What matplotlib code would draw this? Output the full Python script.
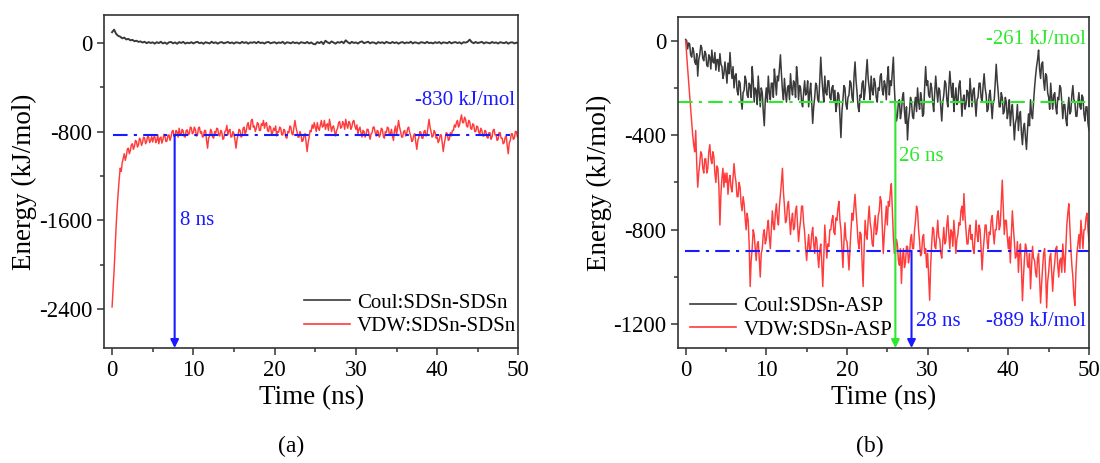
import numpy as np
import matplotlib
matplotlib.use("Agg")
import matplotlib.pyplot as plt
from matplotlib.ticker import MultipleLocator

# time grids (ns)
t_c = np.linspace(0, 50, 201)   # 0.25 ns
t_f = np.linspace(0, 50, 401)   # 0.125 ns

# (a) SDSn-SDSn
coul_a = [95, 118, 80, 62, 55, 40, 46, 30, 35, 22, 26, 14, 18, 8, 12, 2, 9, -4, 6, -2,
          4, -8, 5, -3, 9, -6, 2, -10, 4, 7, -5, 3, -9, 6, -2, 8, -7, 1, -4, 5,
          -6, 3, 8, -4, 2, -9, 5, 0, -6, 9, -3, 4, -8, 2, 6, -5, 1, 7, -4, 3,
          -7, 4, 1, -5, 8, -2, 5, -8, 3, 0, 6, -4, 9, -3, 2, -7, 4, 7, -5, 1,
          5, -6, 3, -2, 8, -9, 4, 1, -5, 6, -3, 2, -8, 5, 0, -4, 7, -6, 3, -10,
          -14, 6, -3, 9, -12, 18, 4, -5, 12, 2, -8, 6, 0, 10, -4, 22, 5, -6, 8, -2,
          3, -7, 6, 12, -4, 2, 9, -5, 4, 1, -9, 6, -2, 5, -6, 8, 0, -4, 7, -3,
          4, -8, 2, 6, -5, 3, -2, 9, -6, 4, 0, -7, 5, 2, -4, 8, -3, 1, -6, 5,
          -2, 6, -7, 3, 1, -4, 8, -5, 2, 6, -3, 4, -8, 5, 1, 9, 28, 6, -4, 7,
          -3, 2, 8, -6, 4, 0, -5, 7, -2, 3, -7, 5, 1, -4, 6, -8, 2, 4, -6, 1,
          -4]
vdw_a = [-2380, -2220, -2050, -1840, -1650, -1490, -1350, -1230, -1130, -1160, -1080, -1040, -1000, -1060, -1020, -960, -950, -1000, -970, -920,
         -910, -960, -935, -880, -890, -940, -920, -860, -875, -925, -900, -850, -860, -910, -890, -840, -850, -900, -880, -845,
         -895, -850, -845, -900, -880, -830, -910, -860, -850, -905, -875, -825, -840, -890, -885, -835, -830, -880, -850, -800,
         -790, -845, -840, -790, -805, -850, -770, -820, -830, -780, -795, -845, -850, -790, -785, -830, -820, -760, -765, -820,
         -810, -760, -780, -840, -835, -770, -760, -815, -800, -850, -845, -790, -790, -880, -950, -860, -840, -780, -800, -850,
         -860, -800, -815, -770, -775, -830, -840, -790, -805, -870, -860, -800, -790, -745, -830, -790, -780, -850, -845, -800,
         -820, -880, -950, -870, -830, -780, -790, -850, -840, -770, -760, -820, -800, -740, -720, -780, -780, -700, -690, -760,
         -750, -800, -770, -720, -730, -790, -790, -730, -745, -700, -770, -730, -720, -790, -800, -750, -760, -820, -810, -770,
         -790, -750, -840, -800, -805, -760, -770, -830, -830, -780, -790, -850, -860, -800, -810, -750, -760, -820, -830, -760,
         -700, -760, -800, -850, -850, -800, -830, -890, -880, -830, -820, -900, -980, -900, -850, -790, -800, -740, -770, -720,
         -760, -800, -720, -770, -790, -740, -700, -760, -750, -700, -780, -740, -730, -790, -690, -740, -800, -760, -750, -800,
         -840, -790, -770, -720, -710, -770, -760, -710, -730, -780, -690, -740, -770, -710, -720, -780, -760, -710, -700, -750,
         -780, -740, -820, -780, -760, -810, -850, -790, -800, -850, -830, -780, -780, -830, -870, -820, -810, -760, -760, -810,
         -840, -790, -800, -850, -830, -770, -780, -840, -860, -800, -810, -760, -770, -830, -820, -780, -840, -880, -790, -750,
         -830, -770, -700, -760, -800, -850, -850, -800, -790, -840, -820, -770, -760, -810, -840, -890, -880, -830, -820, -900,
         -960, -880, -850, -800, -810, -860, -860, -800, -790, -840, -830, -760, -690, -760, -800, -850, -840, -790, -810, -860,
         -850, -900, -880, -830, -830, -900, -980, -910, -860, -810, -820, -880, -870, -810, -840, -790, -790, -740, -760, -720,
         -700, -760, -740, -690, -650, -720, -720, -670, -690, -750, -760, -700, -710, -770, -780, -730, -740, -800, -800, -750,
         -760, -810, -820, -770, -790, -840, -840, -790, -800, -850, -860, -810, -810, -870, -850, -790, -780, -830, -830, -880,
         -870, -810, -810, -860, -860, -910, -900, -850, -840, -930, -1000, -900, -880, -820, -820, -870, -860, -800, -800, -850,
         -840]

# (b) SDSn-ASP
coul_b = [5, 0, -35, -10, -15, -60, -70, -30, -45, -90, -100, -55, -150, -80, -60, -20, -30, -75, -85, -45,
          -55, -105, -110, -60, -70, -120, -40, -90, -95, -50, -125, -80, -80, -130, -55, -100, -110, -160, -140, -90,
          -130, -180, -95, -140, -50, -120, -160, -110, -200, -150, -140, -210, -230, -170, -180, -250, -290, -220, -210, -150,
          -170, -230, -240, -180, -190, -240, -110, -170, -260, -200, -210, -270, -150, -220, -280, -200, -220, -300, -360, -250,
          -200, -260, -150, -220, -250, -180, -180, -240, -120, -170, -230, -150, -170, -120, -60, -140, -210, -250, -160, -220,
          -260, -200, -190, -250, -140, -200, -230, -170, -180, -240, -110, -160, -250, -190, -200, -260, -280, -220, -170, -230,
          -220, -170, -280, -220, -180, -260, -350, -280, -240, -180, -190, -250, -260, -170, -70, -150, -210, -260, -150, -220,
          -230, -170, -170, -240, -250, -200, -190, -260, -210, -300, -270, -220, -230, -320, -410, -300, -250, -190, -200, -270,
          -290, -240, -230, -170, -180, -240, -260, -150, -90, -170, -220, -280, -300, -230, -240, -180, -170, -250, -210, -140,
          -80, -160, -200, -250, -150, -210, -230, -160, -180, -240, -260, -200, -210, -150, -140, -210, -230, -170, -190, -250,
          -160, -110, -230, -170, -190, -130, -70, -200, -280, -340, -320, -260, -250, -330, -300, -240, -220, -300, -350, -280,
          -420, -340, -300, -240, -260, -320, -330, -270, -240, -300, -200, -260, -290, -220, -250, -320, -310, -200, -110, -190,
          -170, -230, -240, -180, -200, -260, -300, -220, -150, -210, -260, -200, -210, -280, -340, -260, -230, -170, -180, -250,
          -280, -200, -130, -190, -240, -180, -300, -240, -200, -270, -260, -190, -170, -240, -320, -250, -230, -290, -270, -210,
          -220, -280, -160, -220, -280, -210, -200, -260, -320, -250, -240, -180, -180, -240, -260, -190, -140, -200, -230, -300,
          -290, -230, -210, -270, -330, -260, -250, -180, -100, -170, -220, -280, -280, -220, -240, -310, -300, -240, -260, -330,
          -300, -250, -360, -300, -270, -340, -420, -350, -330, -270, -380, -320, -300, -390, -440, -370, -350, -410, -460, -380,
          -310, -360, -250, -310, -330, -260, -200, -150, -110, -80, -40, -120, -160, -100, -90, -170, -210, -140, -150, -220,
          -240, -290, -180, -240, -290, -230, -220, -280, -310, -240, -250, -190, -200, -260, -330, -270, -270, -330, -360, -290,
          -240, -310, -300, -230, -190, -250, -260, -320, -320, -260, -220, -280, -290, -230, -240, -310, -340, -280, -280, -350,
          -380]
vdw_b = [0, -60, -120, -175, -230, -290, -340, -400, -440, -470, -380, -520, -620, -560, -520, -470, -480, -540, -560, -500,
         -500, -560, -540, -470, -440, -500, -520, -470, -490, -560, -600, -530, -540, -620, -780, -650, -580, -540, -620, -560,
         -600, -560, -650, -590, -570, -620, -640, -580, -520, -570, -600, -660, -660, -600, -620, -690, -720, -660, -690, -750,
         -800, -730, -760, -860, -1040, -930, -880, -800, -820, -880, -930, -860, -850, -920, -1000, -900, -880, -820, -800, -860,
         -840, -790, -760, -830, -880, -800, -720, -780, -800, -730, -690, -750, -780, -700, -650, -600, -540, -640, -700, -770,
         -760, -700, -680, -750, -820, -760, -730, -800, -790, -720, -700, -780, -850, -800, -760, -700, -700, -770, -810, -880,
         -930, -870, -820, -890, -880, -820, -790, -860, -900, -830, -840, -910, -960, -890, -860, -940, -1040, -920, -780, -850,
         -920, -860, -870, -800, -800, -760, -740, -810, -820, -750, -760, -710, -680, -760, -800, -880, -960, -850, -770, -840,
         -850, -900, -970, -880, -800, -730, -760, -700, -650, -720, -780, -850, -880, -810, -820, -940, -1040, -880, -760, -820,
         -840, -760, -700, -770, -800, -860, -870, -780, -740, -820, -800, -740, -720, -660, -680, -790, -900, -820, -760, -700,
         -780, -680, -700, -640, -605, -720, -830, -900, -900, -840, -860, -930, -950, -880, -1027, -920, -880, -960, -940, -870,
         -870, -940, -910, -840, -820, -880, -880, -800, -760, -700, -720, -800, -850, -910, -900, -830, -820, -900, -880, -960,
         -900, -1000, -1098, -950, -860, -790, -800, -870, -880, -820, -760, -830, -840, -900, -920, -850, -790, -860, -850, -780,
         -740, -820, -880, -800, -810, -870, -760, -820, -900, -840, -820, -770, -780, -720, -700, -760, -647, -740, -800, -860,
         -860, -800, -780, -840, -820, -880, -900, -830, -760, -820, -850, -780, -800, -880, -970, -890, -840, -780, -780, -850,
         -880, -810, -820, -760, -740, -810, -860, -800, -800, -740, -720, -800, -780, -680, -590, -700, -820, -760, -760, -830,
         -880, -830, -940, -820, -720, -790, -850, -920, -910, -850, -980, -900, -860, -960, -1100, -1000, -920, -860, -880, -950,
         -960, -900, -1050, -960, -870, -920, -930, -980, -1000, -920, -900, -1000, -1110, -1030, -960, -900, -880, -980, -1130, -1020,
         -980, -920, -900, -980, -1060, -980, -940, -880, -870, -950, -1000, -930, -920, -980, -860, -920, -980, -880, -780, -730,
         -690, -790, -880, -950, -1000, -1080, -1120, -980, -900, -860, -820, -880, -760, -820, -880, -800, -800, -750, -730, -800,
         -850]

avg_a = -830
avg_coul_b = -261
avg_vdw_b = -889
t_eq_a = 7.7
t_eq_coul_b = 26
t_eq_vdw_b = 28

plt.rcParams['font.family'] = ['Liberation Serif', 'DejaVu Serif']
plt.rcParams['axes.unicode_minus'] = False

BLACK = '#3a3a3a'
RED = '#ff3b3b'
BLUE = '#1a1aff'
GREEN = '#2ee82e'
DASHDOT = (0, (7, 3, 1.5, 3))

fig = plt.figure(figsize=(11, 4.63), dpi=100)
ax1 = fig.add_axes([0.0945, 0.2484, 0.3768, 0.7192])
ax2 = fig.add_axes([0.6164, 0.2484, 0.3736, 0.7149])


def style_axes(ax, ymaj, ymin):
    for s in ax.spines.values():
        s.set_linewidth(1.2)
        s.set_color('#333333')
    ax.xaxis.set_major_locator(MultipleLocator(10))
    ax.xaxis.set_minor_locator(MultipleLocator(5))
    ax.yaxis.set_major_locator(MultipleLocator(ymaj))
    ax.yaxis.set_minor_locator(MultipleLocator(ymin))
    ax.tick_params(which='both', direction='out', top=False, right=False,
                   labelsize=16.5, width=1.1, color='#333333')
    ax.tick_params(which='major', length=5)
    ax.tick_params(which='minor', length=3)
    ax.set_xlabel('Time (ns)', fontsize=19.5, labelpad=3)
    ax.set_ylabel('Energy (kJ/mol)', fontsize=19.5, labelpad=1)


arrow_kw = dict(arrowstyle='-|>', lw=1.5, mutation_scale=12, shrinkA=0, shrinkB=0)
legend_kw = dict(frameon=False, fontsize=15, handlelength=2.2, handletextpad=0.35,
                 labelspacing=0.2, borderpad=0, borderaxespad=0)

# panel (a)
ax1.plot(t_c, coul_a, color=BLACK, lw=1.4, label='Coul:SDSn-SDSn')
ax1.plot(t_f, vdw_a, color=RED, lw=1.05, label='VDW:SDSn-SDSn')
ax1.set_xlim(-1, 50)
ax1.set_ylim(-2750, 250)
ax1.plot([0.1, 49], [avg_a, avg_a], color=BLUE, lw=1.5, linestyle=DASHDOT)
ax1.annotate('', xy=(t_eq_a, -2750), xytext=(t_eq_a, avg_a),
             arrowprops=dict(color=BLUE, **arrow_kw))
ax1.text(49.6, -520, '-830 kJ/mol', color=BLUE, fontsize=15, ha='right', va='center')
ax1.text(8.3, -1600, '8 ns', color=BLUE, fontsize=15, ha='left', va='center')
style_axes(ax1, 800, 400)
leg1 = ax1.legend(loc='lower right', bbox_to_anchor=(0.995, 0.035), **legend_kw)
for ln in leg1.get_lines():
    ln.set_linewidth(1.2)

# panel (b)
ax2.plot(t_f, coul_b, color=BLACK, lw=1.1, label='Coul:SDSn-ASP')
ax2.plot(t_f, vdw_b, color=RED, lw=1.05, label='VDW:SDSn-ASP')
ax2.set_xlim(-0.94, 50)
ax2.set_ylim(-1300, 100)
ax2.plot([-0.94, 50], [avg_coul_b, avg_coul_b], color=GREEN, lw=1.5, linestyle=DASHDOT)
ax2.plot([-0.1, 50], [avg_vdw_b, avg_vdw_b], color=BLUE, lw=1.5, linestyle=DASHDOT)
ax2.annotate('', xy=(t_eq_coul_b, -1300), xytext=(t_eq_coul_b, avg_coul_b),
             arrowprops=dict(color=GREEN, **arrow_kw))
ax2.annotate('', xy=(t_eq_vdw_b, -1300), xytext=(t_eq_vdw_b, avg_vdw_b),
             arrowprops=dict(color=BLUE, **arrow_kw))
ax2.text(49.6, 5, '-261 kJ/mol', color=GREEN, fontsize=15, ha='right', va='center')
ax2.text(26.4, -490, '26 ns', color=GREEN, fontsize=15, ha='left', va='center')
ax2.text(28.5, -1190, '28 ns', color=BLUE, fontsize=15, ha='left', va='center')
ax2.text(49.6, -1190, '-889 kJ/mol', color=BLUE, fontsize=15, ha='right', va='center')
style_axes(ax2, 400, 200)
leg2 = ax2.legend(loc='lower left', bbox_to_anchor=(0.03, 0.025), **legend_kw)
for ln in leg2.get_lines():
    ln.set_linewidth(1.2)

fig.text(0.265, 0.035, '(a)', fontsize=17, ha='center', va='center')
fig.text(0.791, 0.035, '(b)', fontsize=17, ha='center', va='center')

fig.savefig('out.png', dpi=100)
